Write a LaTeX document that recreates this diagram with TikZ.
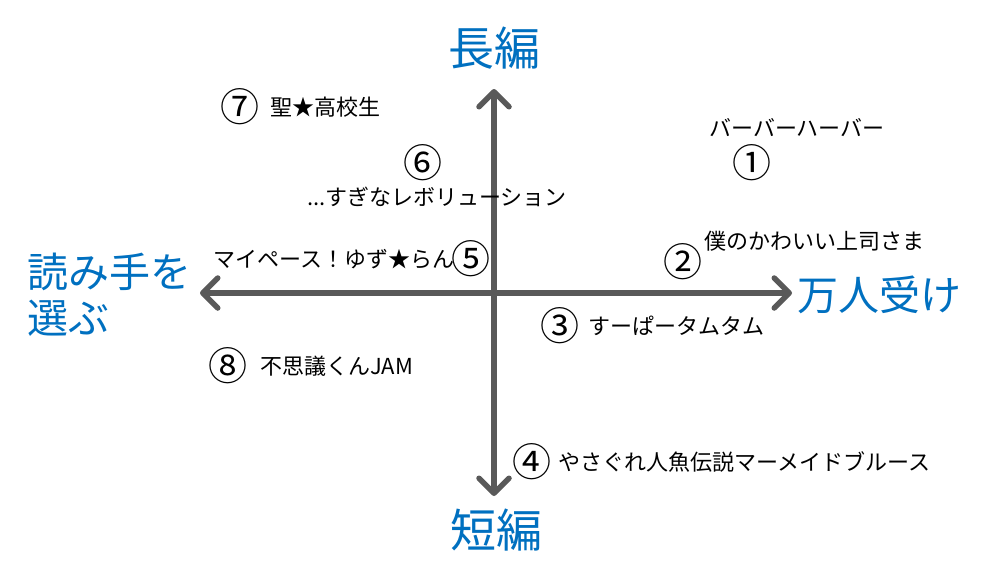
\documentclass[tikz,border=0pt]{standalone}
\usepackage{fontspec}
\setmainfont{Noto Sans CJK JP}
\usetikzlibrary{arrows.meta}
\definecolor{axisgray}{HTML}{595959}
\definecolor{labelblue}{HTML}{0070C0}
\tikzset{
  axis/.style={draw=axisgray,line width=5.5pt,-{Straight Barb[length=15pt,width=30pt,round]}},
  biglabel/.style={text=labelblue,inner sep=0pt,font=\fontsize{46}{50}\selectfont},
  sidelabel/.style={text=labelblue,inner sep=0pt,font=\fontsize{41}{46}\selectfont},
  item/.style={inner sep=0pt,font=\fontsize{22}{26}\selectfont},
  num/.style={inner sep=0pt,font=\fontsize{39}{40}\selectfont},
}
\begin{document}
\begin{tikzpicture}[x=1pt,y=-1pt]
\useasboundingbox (0,0) rectangle (990,586);
\fill[white] (0,0) rectangle (990,586);
% axes
\coordinate (o) at (494,293);
\coordinate (top) at (494,89);
\coordinate (bot) at (494,496);
\coordinate (lft) at (200,293);
\coordinate (rgt) at (792,293);
\draw[axis] (o) -- (top);
\draw[axis] (o) -- (bot);
\draw[axis] (o) -- (lft);
\draw[axis] (o) -- (rgt);
% axis labels
\node[biglabel] (long) at (494,48) {長編};
\node[biglabel] (short) at (496,530) {短編};
\node[sidelabel,anchor=west,align=left] (choose) at (27,295) {読み手を\\選ぶ};
\node[sidelabel,anchor=west] (mass) at (797,295) {万人受け};
% items
\node[num] (n7) at (240,107) {⑦};
\node[item,anchor=west] (t7) at (270,107) {聖★高校生};
\node[num] (n6) at (423,163) {⑥};
\node[item] (t6) at (437,197) {...すぎなレボリューション};
\node[item] (t1) at (797,128) {バーバーハーバー};
\node[num] (n1) at (752,163) {①};
\node[item,anchor=west] (t2) at (704,241) {僕のかわいい上司さま};
\node[num] (n2) at (683,262) {②};
\node[item,anchor=east] (t5) at (455,259) {マイペース！ゆず★らん};
\node[num] (n5) at (471,259) {⑤};
\node[num] (n3) at (560,326) {③};
\node[item,anchor=west] (t3) at (588,326) {すーぱータムタム};
\node[num] (n8) at (228,366) {⑧};
\node[item,anchor=west] (t8) at (260,366) {不思議くんJAM};
\node[num] (n4) at (532,462) {④};
\node[item,anchor=west] (t4) at (558,462) {やさぐれ人魚伝説マーメイドブルース};
\end{tikzpicture}
\end{document}
